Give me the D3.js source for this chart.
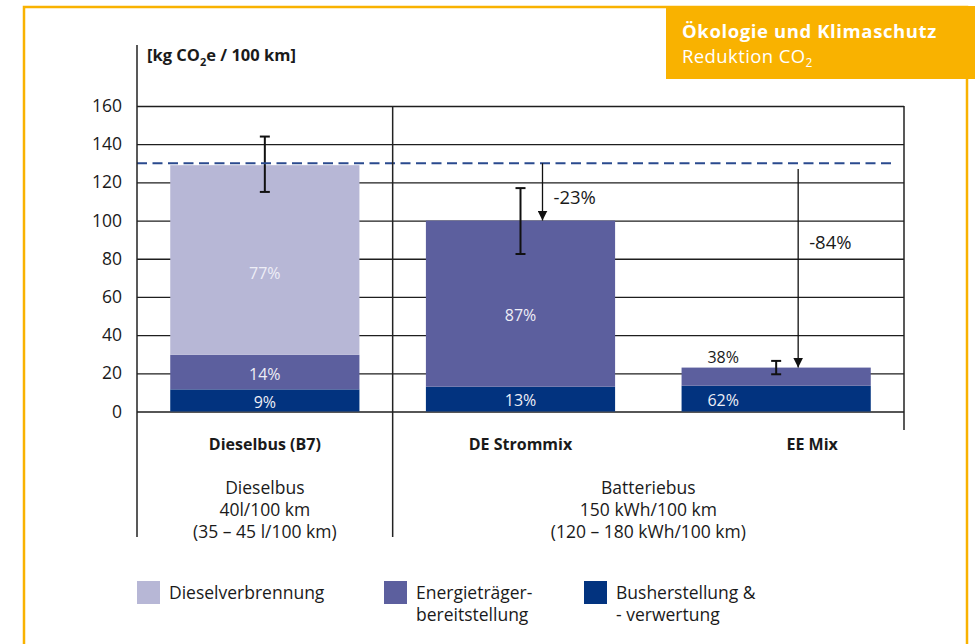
<html>
    <head>
        <title>Reduktion CO2</title>
        <style>
            body { margin: 0; background: #fff; }
            text { font-family: "Open Sans", sans-serif; fill: #1a1a1a; }
        </style>
    </head>
    <body>
        <svg></svg>

        <script src="https://d3js.org/d3.v7.min.js"></script>
        <script>
            // chart data
            const categories = ["Dieselbus (B7)", "DE Strommix", "EE Mix"];
            const busherstellung = [11.6, 13, 13.5];
            const energietraeger = [18.1, 87, 9.5];
            const dieselverbrennung = [99.3, 0, 0];
            const busLabels = ["9%", "13%", "62%"];
            const energieLabels = ["14%", "87%", "38%"];
            const dieselLabels = ["77%", "", ""];
            const errorLow = [115, 82.5, 19.5];
            const errorHigh = [144, 117, 26.5];
            const referenceValue = 130;
            const reductions = ["", "-23%", "-84%"];
            const yTicks = [0, 20, 40, 60, 80, 100, 120, 140, 160];
            const seriesKeys = ["bus", "energie", "diesel"];
            const legendNames = [["Dieselverbrennung"], ["Energieträger-", "bereitstellung"], ["Busherstellung &", "- verwertung"]];
            const groupTexts = [
                ["Dieselbus", "40l/100 km", "(35 – 45 l/100 km)"],
                ["Batteriebus", "150 kWh/100 km", "(120 – 180 kWh/100 km)"]
            ];

            const colors = {diesel: "#b7b7d6", energie: "#5c5f9e", bus: "#02337f"};
            const yellow = "#f9b200";

            const svgW = 975, svgH = 644;
            const svg = d3.select("svg").attr("width", svgW).attr("height", svgH);

            const plotLeft = 137, plotRight = 904, plotTop = 106, plotBottom = 411.5;

            // yellow frame and badge
            svg.append("rect")
                .attr("x", 24).attr("y", 7).attr("width", 943).attr("height", 660)
                .attr("fill", "none").attr("stroke", yellow).attr("stroke-width", 2.5);
            svg.append("rect")
                .attr("x", 666).attr("y", 6).attr("width", 309).attr("height", 73)
                .attr("fill", yellow);
            svg.append("text")
                .attr("x", 682).attr("y", 37.5)
                .attr("font-size", 18.5).attr("font-weight", "bold")
                .attr("letter-spacing", 0.6)
                .style("fill", "#fff")
                .text("Ökologie und Klimaschutz");
            const sub = svg.append("text")
                .attr("x", 682).attr("y", 62.5)
                .attr("font-size", 18.5)
                .attr("letter-spacing", 0.4)
                .style("fill", "#fff");
            sub.append("tspan").text("Reduktion CO");
            sub.append("tspan").attr("font-size", 12).attr("dy", 4).text("2");

            // y axis label
            const yl = svg.append("text")
                .attr("x", 147).attr("y", 61)
                .attr("font-size", 16.5).attr("font-weight", "bold");
            yl.append("tspan").text("[kg CO");
            yl.append("tspan").attr("font-size", 11).attr("dy", 5).text("2");
            yl.append("tspan").attr("dy", -5).text("e / 100 km]");

            const x = d3.scaleBand()
                .domain(categories)
                .range([plotLeft, plotRight])
                .paddingInner(0.26)
                .paddingOuter(0.13);

            const y = d3.scaleLinear()
                .domain([0, 160])
                .range([plotBottom, plotTop]);

            // grid lines with tick labels
            svg.append("g")
                .attr("transform", "translate(" + plotLeft + ",0)")
                .call(d3.axisLeft(y).tickValues(yTicks).tickSize(-(plotRight - plotLeft)).tickPadding(15))
                .call(g => g.select(".domain").remove())
                .call(g => g.selectAll(".tick line").attr("stroke", "#1e1e1e").attr("stroke-width", 1.3))
                .call(g => g.selectAll(".tick text")
                    .attr("font-size", 17.5)
                    .style("font-family", "'Open Sans', sans-serif")
                    .style("fill", "#1a1a1a"));

            const data = categories.map(function(c, i) {
                return {name: c, bus: busherstellung[i], energie: energietraeger[i], diesel: dieselverbrennung[i],
                        labels: {bus: busLabels[i], energie: energieLabels[i], diesel: dieselLabels[i]}};
            });

            const stacked = d3.stack().keys(seriesKeys)(data);

            // label anchor inside each bar (fraction of bar width)
            const labelAlign = [0.5, 0.5, 0.22];

            stacked.forEach(function(layer) {
                svg.append("g")
                    .selectAll("rect")
                    .data(layer.filter(d => d[1] - d[0] > 0))
                    .join("rect")
                    .attr("x", d => x(d.data.name))
                    .attr("y", d => y(d[1]))
                    .attr("width", x.bandwidth())
                    .attr("height", d => y(d[0]) - y(d[1]))
                    .attr("fill", colors[layer.key]);
            });

            stacked.forEach(function(layer) {
                svg.append("g")
                    .selectAll("text")
                    .data(layer.filter(d => d[1] - d[0] > 0))
                    .join("text")
                    .attr("x", d => x(d.data.name) + x.bandwidth() * labelAlign[categories.indexOf(d.data.name)])
                    .attr("y", function(d) {
                        if (d[1] - d[0] < 10) return y(d[1]) - 10;
                        return y(d[0] + (d[1] - d[0]) * 0.43);
                    })
                    .attr("dy", "0.35em")
                    .attr("text-anchor", "middle")
                    .attr("font-size", 16)
                    .style("fill", d => (d[1] - d[0] < 10) ? "#1a1a1a" : "#eeeef6")
                    .text(d => d.data.labels[layer.key]);
            });

            // error bars
            const err = svg.append("g")
                .selectAll("g")
                .data(categories)
                .join("g")
                .attr("stroke", "#111")
                .attr("stroke-width", 2);
            err.append("line")
                .attr("x1", d => x(d) + x.bandwidth() / 2).attr("x2", d => x(d) + x.bandwidth() / 2)
                .attr("y1", (d, i) => y(errorLow[i])).attr("y2", (d, i) => y(errorHigh[i]));
            err.append("line")
                .attr("x1", d => x(d) + x.bandwidth() / 2 - 5).attr("x2", d => x(d) + x.bandwidth() / 2 + 5)
                .attr("y1", (d, i) => y(errorLow[i])).attr("y2", (d, i) => y(errorLow[i]));
            err.append("line")
                .attr("x1", d => x(d) + x.bandwidth() / 2 - 5).attr("x2", d => x(d) + x.bandwidth() / 2 + 5)
                .attr("y1", (d, i) => y(errorHigh[i])).attr("y2", (d, i) => y(errorHigh[i]));

            // dashed reference line (diesel total)
            svg.append("line")
                .attr("x1", plotLeft).attr("x2", plotRight - 9)
                .attr("y1", y(referenceValue)).attr("y2", y(referenceValue))
                .attr("stroke", "#2a4a8e").attr("stroke-width", 2)
                .attr("stroke-dasharray", "10,5.5");

            // arrows from reference down to bar tops
            svg.append("defs").append("marker")
                .attr("id", "head")
                .attr("viewBox", "0 0 10 10")
                .attr("refX", 10).attr("refY", 5)
                .attr("markerWidth", 10).attr("markerHeight", 10)
                .attr("markerUnits", "userSpaceOnUse")
                .attr("orient", "auto")
                .append("path").attr("d", "M0,0L10,5L0,10Z").attr("fill", "#111");

            const arrowStart = [0, referenceValue, 127];
            const labelFrac = [0, 0.6, 0.39];
            data.forEach(function(d, i) {
                if (!reductions[i]) return;
                const total = d.bus + d.energie + d.diesel;
                const ax = x(d.name) + x.bandwidth() / 2 + 22;
                svg.append("line")
                    .attr("x1", ax).attr("x2", ax)
                    .attr("y1", y(arrowStart[i])).attr("y2", y(total))
                    .attr("stroke", "#111").attr("stroke-width", 1.3)
                    .attr("marker-end", "url(#head)");
                svg.append("text")
                    .attr("x", ax + 11)
                    .attr("y", y(referenceValue) + (y(total) - y(referenceValue)) * labelFrac[i])
                    .attr("dy", "0.35em")
                    .attr("font-size", 18.5)
                    .text(reductions[i]);
            });

            // axis line and separators
            svg.append("line")
                .attr("x1", plotLeft).attr("x2", plotLeft).attr("y1", 45).attr("y2", 537)
                .attr("stroke", "#222").attr("stroke-width", 1.5);
            const sepX = (x(categories[0]) + x.bandwidth() + x(categories[1])) / 2;
            svg.append("line")
                .attr("x1", sepX).attr("x2", sepX).attr("y1", plotTop).attr("y2", 537)
                .attr("stroke", "#222").attr("stroke-width", 1.5);
            svg.append("line")
                .attr("x1", plotRight).attr("x2", plotRight).attr("y1", plotTop).attr("y2", 430)
                .attr("stroke", "#222").attr("stroke-width", 1.5);

            // category labels
            const catShift = [0, 0, 36];
            svg.append("g")
                .selectAll("text")
                .data(categories)
                .join("text")
                .attr("x", (d, i) => x(d) + x.bandwidth() / 2 + catShift[i])
                .attr("y", 444)
                .attr("dy", "0.35em")
                .attr("text-anchor", "middle")
                .attr("font-size", 16)
                .attr("font-weight", "bold")
                .text(d => d);

            // group descriptions
            const groupBounds = [[plotLeft, sepX], [sepX, plotRight]];
            groupTexts.forEach(function(lines, gi) {
                const cx = (groupBounds[gi][0] + groupBounds[gi][1]) / 2;
                svg.append("g")
                    .selectAll("text")
                    .data(lines)
                    .join("text")
                    .attr("x", cx)
                    .attr("y", (d, i) => 488 + i * 22)
                    .attr("dy", "0.35em")
                    .attr("text-anchor", "middle")
                    .attr("font-size", 17.5)
                    .text(d => d);
            });

            // legend
            const legendX = [137, 384, 584];
            const legendKeys = ["diesel", "energie", "bus"];
            const legend = svg.append("g")
                .selectAll("g")
                .data(legendKeys)
                .join("g")
                .attr("transform", (d, i) => "translate(" + legendX[i] + ",581)");
            legend.append("rect")
                .attr("width", 23).attr("height", 23)
                .attr("fill", d => colors[d]);
            legend.each(function(d, i) {
                d3.select(this).selectAll("text")
                    .data(legendNames[i])
                    .join("text")
                    .attr("x", 32)
                    .attr("y", (t, j) => 11.5 + j * 22)
                    .attr("dy", "0.35em")
                    .attr("font-size", 17.5)
                    .text(t => t);
            });
        </script>
    </body>
</html>
